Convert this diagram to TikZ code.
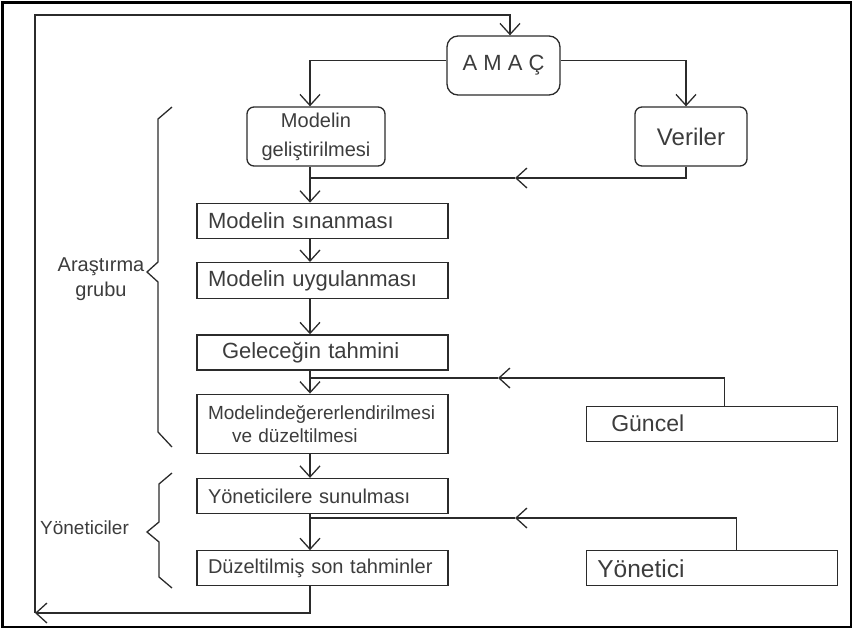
\documentclass[tikz,border=0pt]{standalone}
\usepackage{fontspec}
\setmainfont{Liberation Sans}
\usepackage{xcolor}
\usetikzlibrary{arrows.meta,positioning}
\definecolor{ink}{HTML}{2B2B2B}
\definecolor{graytext}{HTML}{3C3C3C}

\begin{document}
\begin{tikzpicture}[x=1pt, y=-1pt,
  frame/.style={draw=black, line width=2.5pt},
  rbox/.style={draw=ink, line width=1.3pt, rounded corners=7pt, align=center,
               text=graytext, inner sep=0pt},
  box/.style={draw=ink, line width=1.3pt, text width=229pt, inner xsep=11pt,
              inner ysep=0pt, minimum height=35pt, align=left, text=graytext,
              font=\fontsize{22}{26}\selectfont},
  side/.style={box, font=\fontsize{24}{28}\selectfont},
  line/.style={draw=ink, line width=1.3pt},
  arrow/.style={line, -{Straight Barb[length=11pt, width=20pt]}},
  brace/.style={line, line join=miter},
  grouptext/.style={text=graytext, align=center, font=\fontsize{20}{25}\selectfont}
]
\useasboundingbox (0,0) rectangle (854,630);
\draw[frame] (2.5,2.5) rectangle (851,627);
\coordinate (spine) at (310,0);

% top part
\node[rbox, rounded corners=11pt, minimum width=113pt, minimum height=59pt,
      font=\fontsize{22}{26}\selectfont] (amac) at (503.5,65.5) {A M A Ç};
\node[rbox, minimum width=138pt, minimum height=59pt,
      font=\fontsize{20}{29}\selectfont] (modgel) at (316,136.5) {Modelin\\geliştirilmesi};
\node[rbox, minimum width=112pt, minimum height=59pt,
      font=\fontsize{24}{28}\selectfont] (veriler) at (691,136.5) {Veriler};

% main column
\node[box, below=36pt of modgel, xshift=6.5pt] (sin) {Modelin sınanması};
\node[box, below=23pt of sin, minimum height=36pt] (uyg) {Modelin uygulanması};
\node[box, below=35pt of uyg] (gel) {\hspace*{14pt}Geleceğin tahmini};
\node[box, below=23pt of gel, minimum height=59pt,
      font=\fontsize{19}{23}\selectfont] (deg) {Modelindeğererlendirilmesi\\\hspace*{24pt}ve düzeltilmesi};
\node[box, below=24pt of deg, font=\fontsize{20}{24}\selectfont] (yonsun) {Yöneticilere sunulması};
\node[box, below=36pt of yonsun, font=\fontsize{20}{24}\selectfont] (duz) {Düzeltilmiş son tahminler};

% side inputs
\node[side, right=137pt of deg, inner xsep=25pt, text width=201pt,
      font=\fontsize{23}{27}\selectfont] (guncel) {Güncel};
\node[side, right=137pt of duz, font=\fontsize{24.5}{28}\selectfont] (yonetici) {Yönetici};

% groups
\node[grouptext] (arastirma) at (101,279.5) {Araştırma\\grubu};
\node[grouptext, font=\fontsize{19}{23}\selectfont] (yoneticiler) at (84.5,528) {Yöneticiler};
\draw[brace] (172,107) -- (158,119) -- (158,262) -- (147,272) -- (158,282) -- (158,432) -- (172,447);
\draw[brace] (172,473) -- (159,484) -- (159,522) -- (147,532) -- (159,542) -- (159,577) -- (172,588);

% connectors
\coordinate (loopb) at (35,613);
\coordinate (loopt) at (510,15);
\coordinate (vmid) at (515,178);
\coordinate (gmid) at (498,378);
\coordinate (ymid) at (515,518);

\draw[arrow] ([yshift=5pt]amac.west) -| (spine |- modgel.north);
\draw[arrow] ([yshift=5pt]amac.east) -| ([xshift=-5pt]veriler.north);
\draw[arrow] ([xshift=-5pt]veriler.south) |- (vmid);
\draw[line] (vmid) -- (spine |- vmid);
\draw[arrow] (spine |- modgel.south) -- (spine |- sin.north);
\draw[arrow] (spine |- sin.south) -- (spine |- uyg.north);
\draw[arrow] (spine |- uyg.south) -- (spine |- gel.north);
\draw[arrow] (spine |- gel.south) -- (spine |- deg.north);
\draw[arrow] (spine |- deg.south) -- (spine |- yonsun.north);
\draw[arrow] (spine |- yonsun.south) -- (spine |- duz.north);
\draw[arrow] ([xshift=12.5pt]guncel.north) |- (gmid);
\draw[line] (gmid) -- (spine |- gmid);
\draw[arrow] ([xshift=24.5pt]yonetici.north) |- (ymid);
\draw[line] (ymid) -- (spine |- ymid);
\draw[arrow] (spine |- duz.south) |- (loopb);
\draw[arrow] (loopb) -- (loopb |- loopt) -- (loopt) -- (loopt |- amac.north);
\end{tikzpicture}
\end{document}
